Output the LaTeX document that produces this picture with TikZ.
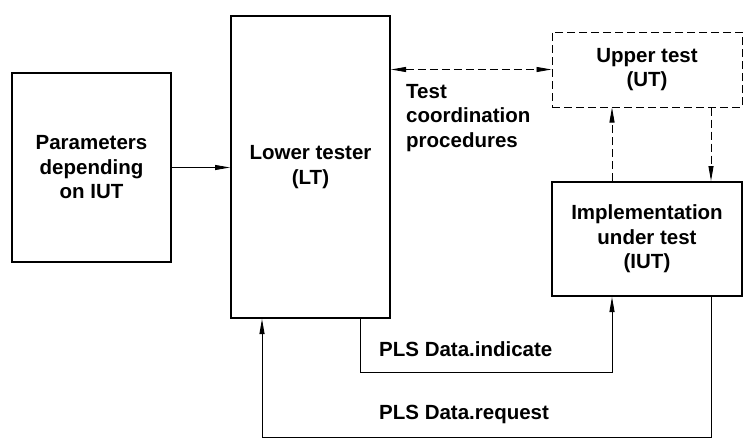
\documentclass[tikz,border=0pt]{standalone}
\usepackage{fontspec}
\setmainfont{Liberation Sans}
\usetikzlibrary{arrows.meta}
\begin{document}
\begin{tikzpicture}[x=1pt,y=-1pt,
  font=\fontsize{20.5}{24.5}\selectfont\bfseries,
  box/.style={draw, line width=2pt, rectangle, align=center, inner sep=0pt},
  dbox/.style={draw, line width=1pt, rectangle, align=center, inner sep=0pt, dash pattern=on 8pt off 4pt},
  conn/.style={line width=0.9pt, -{Triangle[length=15pt,width=5pt]}},
  dconn/.style={conn, dash pattern=on 8pt off 4pt},
  lbl/.style={anchor=base west, inner sep=0pt}]
\useasboundingbox (0,0) rectangle (747,439);
\node[box, minimum width=159pt, minimum height=189pt] (par) at (91.5,167.5) {Parameters\\depending\\on IUT};
\node[box, minimum width=159pt, minimum height=302pt] (lt) at (310.5,167) {Lower tester\\(LT)};
\node[dbox, minimum width=190pt, minimum height=75pt] (ut) at (647,69.5) {Upper test\\(UT)};
\node[box, minimum width=190pt, minimum height=114pt] (iut) at (647,239) {Implementation\\under test\\(IUT)};
\node[anchor=north west, align=left, inner sep=0pt] (tcp) at (406,84) {Test\\coordination\\procedures};
\node[lbl] (ind) at (379,356) {PLS Data.indicate};
\node[lbl] (req) at (379,419) {PLS Data.request};
\coordinate (xa) at (612,0);
\coordinate (xb) at (711,0);
\coordinate (xc) at (360,0);
\coordinate (xd) at (262,0);
\coordinate (yi) at (0,372);
\coordinate (yr) at (0,437.5);
\draw[conn] (par.east) -- (par.east -| lt.west);
\draw[dconn, {Triangle[length=15pt,width=5pt]}-{Triangle[length=15pt,width=5pt]}] (ut.west -| lt.east) -- (ut.west);
\draw[dconn] (xa |- iut.north) -- (xa |- ut.south);
\draw[dconn] (xb |- ut.south) -- (xb |- iut.north);
\draw[conn] (xc |- lt.south) -- (xc |- yi) -- (xa |- yi) -- (xa |- iut.south);
\draw[conn] (xb |- iut.south) -- (xb |- yr) -- (xd |- yr) -- (xd |- lt.south);
\end{tikzpicture}
\end{document}
